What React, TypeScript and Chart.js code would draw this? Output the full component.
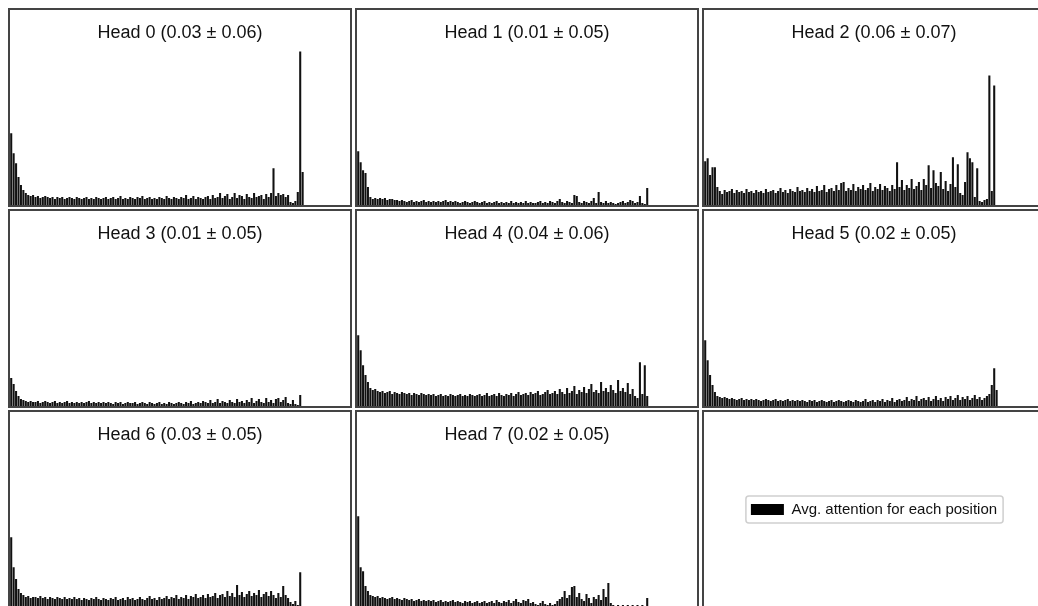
import React, { useEffect, useRef } from "react";
import { Chart, registerables } from "chart.js";

Chart.register(...registerables);

const FONT = "'Liberation Sans', Arial, Helvetica, sans-serif";
const N_POSITIONS = 140;
const POSITIONS: string[] = Array.from({ length: N_POSITIONS }, (_, i) => String(i));
const Y_MAX = 0.8;
const LEGEND_LABEL = "Avg. attention for each position";

const HEAD_TITLES = [
  "Head 0 (0.03 \u00b1 0.06)",
  "Head 1 (0.01 \u00b1 0.05)",
  "Head 2 (0.06 \u00b1 0.07)",
  "Head 3 (0.01 \u00b1 0.05)",
  "Head 4 (0.04 \u00b1 0.06)",
  "Head 5 (0.02 \u00b1 0.05)",
  "Head 6 (0.03 \u00b1 0.05)",
  "Head 7 (0.02 \u00b1 0.05)",
];

const HEAD0 = [
  0.36, 0.26, 0.21, 0.14, 0.10, 0.075, 0.06, 0.05, 0.045, 0.05,
  0.04, 0.045, 0.035, 0.04, 0.045, 0.04, 0.035, 0.04, 0.03, 0.04,
  0.035, 0.04, 0.03, 0.035, 0.04, 0.035, 0.03, 0.04, 0.035, 0.03,
  0.035, 0.04, 0.03, 0.035, 0.03, 0.04, 0.035, 0.03, 0.035, 0.04,
  0.03, 0.035, 0.04, 0.03, 0.035, 0.045, 0.03, 0.035, 0.03, 0.04,
  0.035, 0.03, 0.04, 0.035, 0.045, 0.03, 0.035, 0.04, 0.03, 0.035,
  0.03, 0.04, 0.035, 0.03, 0.045, 0.035, 0.03, 0.04, 0.035, 0.03,
  0.04, 0.035, 0.05, 0.03, 0.035, 0.045, 0.03, 0.04, 0.035, 0.03,
  0.04, 0.045, 0.03, 0.05, 0.035, 0.04, 0.06, 0.035, 0.045, 0.055,
  0.03, 0.04, 0.06, 0.035, 0.05, 0.045, 0.03, 0.055, 0.04, 0.035,
  0.06, 0.04, 0.045, 0.05, 0.03, 0.055, 0.04, 0.06, 0.185, 0.045,
  0.06, 0.05, 0.055, 0.04, 0.05, 0.015, 0.01, 0.02, 0.065, 0.77, 0.165,
];

const HEAD1 = [
  0.27, 0.215, 0.175, 0.16, 0.09, 0.04, 0.03, 0.035, 0.03, 0.035,
  0.03, 0.035, 0.025, 0.03, 0.03, 0.025, 0.025, 0.02, 0.025, 0.02,
  0.015, 0.02, 0.025, 0.015, 0.02, 0.015, 0.02, 0.025, 0.015, 0.02,
  0.015, 0.02, 0.015, 0.02, 0.015, 0.02, 0.025, 0.015, 0.02, 0.015,
  0.02, 0.015, 0.01, 0.015, 0.02, 0.015, 0.01, 0.015, 0.02, 0.015,
  0.01, 0.015, 0.02, 0.01, 0.015, 0.01, 0.015, 0.02, 0.01, 0.015,
  0.01, 0.015, 0.01, 0.02, 0.01, 0.015, 0.01, 0.015, 0.01, 0.02,
  0.01, 0.015, 0.01, 0.01, 0.015, 0.02, 0.01, 0.015, 0.01, 0.02,
  0.015, 0.01, 0.02, 0.03, 0.015, 0.01, 0.02, 0.015, 0.01, 0.05,
  0.045, 0.015, 0.01, 0.02, 0.015, 0.01, 0.02, 0.035, 0.01, 0.065,
  0.015, 0.01, 0.02, 0.01, 0.015, 0.01, 0.005, 0.01, 0.015, 0.02,
  0.01, 0.015, 0.025, 0.02, 0.01, 0.015, 0.045, 0.01, 0.005, 0.085,
];

const HEAD2 = [
  0.22, 0.235, 0.15, 0.19, 0.19, 0.09, 0.07, 0.055, 0.075, 0.065,
  0.07, 0.08, 0.06, 0.075, 0.065, 0.07, 0.06, 0.08, 0.065, 0.07,
  0.06, 0.075, 0.065, 0.07, 0.06, 0.08, 0.065, 0.07, 0.075, 0.06,
  0.07, 0.085, 0.065, 0.075, 0.06, 0.08, 0.07, 0.065, 0.09, 0.07,
  0.075, 0.065, 0.085, 0.07, 0.08, 0.065, 0.095, 0.07, 0.075, 0.1,
  0.065, 0.08, 0.085, 0.07, 0.1, 0.075, 0.11, 0.115, 0.07, 0.085,
  0.075, 0.105, 0.07, 0.09, 0.08, 0.1, 0.075, 0.085, 0.11, 0.07,
  0.09, 0.08, 0.105, 0.075, 0.095, 0.085, 0.07, 0.1, 0.08, 0.215,
  0.09, 0.125, 0.075, 0.1, 0.085, 0.13, 0.08, 0.095, 0.115, 0.075,
  0.13, 0.1, 0.2, 0.085, 0.175, 0.11, 0.095, 0.165, 0.08, 0.12,
  0.07, 0.105, 0.24, 0.09, 0.205, 0.06, 0.05, 0.115, 0.265, 0.235,
  0.215, 0.04, 0.185, 0.02, 0.015, 0.025, 0.03, 0.65, 0.07, 0.6,
];

const HEAD3 = [
  0.14, 0.11, 0.075, 0.05, 0.035, 0.03, 0.025, 0.02, 0.025, 0.02,
  0.02, 0.025, 0.015, 0.02, 0.025, 0.02, 0.015, 0.02, 0.025, 0.015,
  0.02, 0.015, 0.02, 0.025, 0.015, 0.02, 0.015, 0.02, 0.015, 0.02,
  0.015, 0.02, 0.025, 0.015, 0.02, 0.015, 0.02, 0.015, 0.02, 0.015,
  0.02, 0.015, 0.01, 0.02, 0.015, 0.02, 0.01, 0.015, 0.02, 0.015,
  0.015, 0.02, 0.01, 0.015, 0.02, 0.015, 0.01, 0.02, 0.015, 0.01,
  0.015, 0.02, 0.01, 0.015, 0.01, 0.02, 0.015, 0.01, 0.015, 0.02,
  0.015, 0.01, 0.02, 0.015, 0.025, 0.01, 0.015, 0.02, 0.015, 0.025,
  0.02, 0.015, 0.03, 0.015, 0.02, 0.035, 0.015, 0.025, 0.02, 0.015,
  0.03, 0.02, 0.015, 0.035, 0.02, 0.025, 0.015, 0.03, 0.02, 0.04,
  0.015, 0.025, 0.035, 0.02, 0.015, 0.04, 0.02, 0.03, 0.015, 0.035,
  0.04, 0.02, 0.03, 0.045, 0.015, 0.01, 0.03, 0.01, 0.005, 0.055,
];

const HEAD4 = [
  0.355, 0.28, 0.205, 0.155, 0.12, 0.09, 0.08, 0.085, 0.075, 0.07,
  0.075, 0.065, 0.07, 0.075, 0.06, 0.07, 0.065, 0.06, 0.07, 0.065,
  0.06, 0.065, 0.055, 0.065, 0.06, 0.055, 0.065, 0.06, 0.055, 0.06,
  0.055, 0.06, 0.05, 0.055, 0.06, 0.05, 0.055, 0.05, 0.06, 0.055,
  0.05, 0.055, 0.06, 0.05, 0.055, 0.05, 0.06, 0.055, 0.05, 0.055,
  0.06, 0.05, 0.055, 0.065, 0.05, 0.055, 0.06, 0.05, 0.065, 0.055,
  0.05, 0.06, 0.055, 0.065, 0.05, 0.06, 0.07, 0.055, 0.06, 0.065,
  0.055, 0.07, 0.06, 0.065, 0.075, 0.055, 0.06, 0.07, 0.08, 0.06,
  0.065, 0.075, 0.06, 0.085, 0.07, 0.06, 0.09, 0.065, 0.075, 0.1,
  0.06, 0.08, 0.07, 0.095, 0.065, 0.085, 0.11, 0.07, 0.08, 0.065,
  0.12, 0.075, 0.09, 0.07, 0.105, 0.08, 0.065, 0.13, 0.075, 0.09,
  0.07, 0.115, 0.06, 0.085, 0.05, 0.04, 0.22, 0.06, 0.205, 0.05,
];

const HEAD5 = [
  0.33, 0.23, 0.155, 0.105, 0.07, 0.05, 0.045, 0.04, 0.045, 0.04,
  0.035, 0.04, 0.035, 0.03, 0.035, 0.04, 0.03, 0.035, 0.03, 0.035,
  0.03, 0.035, 0.03, 0.025, 0.03, 0.035, 0.03, 0.025, 0.03, 0.035,
  0.025, 0.03, 0.025, 0.03, 0.035, 0.025, 0.03, 0.025, 0.03, 0.025,
  0.03, 0.025, 0.02, 0.03, 0.025, 0.03, 0.02, 0.025, 0.03, 0.025,
  0.02, 0.025, 0.03, 0.02, 0.025, 0.03, 0.025, 0.02, 0.025, 0.03,
  0.025, 0.02, 0.03, 0.025, 0.02, 0.025, 0.035, 0.02, 0.025, 0.03,
  0.02, 0.03, 0.025, 0.035, 0.02, 0.03, 0.025, 0.04, 0.02, 0.03,
  0.035, 0.025, 0.03, 0.045, 0.025, 0.035, 0.03, 0.05, 0.025, 0.035,
  0.04, 0.03, 0.045, 0.025, 0.035, 0.05, 0.03, 0.04, 0.025, 0.045,
  0.035, 0.05, 0.03, 0.04, 0.055, 0.03, 0.045, 0.035, 0.05, 0.03,
  0.04, 0.055, 0.035, 0.045, 0.03, 0.04, 0.05, 0.06, 0.105, 0.19, 0.08,
];

const HEAD6 = [
  0.35, 0.2, 0.14, 0.09, 0.07, 0.06, 0.05, 0.055, 0.045, 0.05,
  0.05, 0.045, 0.055, 0.045, 0.05, 0.04, 0.05, 0.045, 0.04, 0.05,
  0.045, 0.04, 0.05, 0.04, 0.045, 0.04, 0.05, 0.04, 0.045, 0.035,
  0.045, 0.04, 0.035, 0.045, 0.04, 0.05, 0.04, 0.035, 0.045, 0.04,
  0.035, 0.045, 0.04, 0.05, 0.035, 0.04, 0.045, 0.035, 0.05, 0.04,
  0.045, 0.035, 0.04, 0.05, 0.04, 0.035, 0.045, 0.055, 0.04, 0.045,
  0.035, 0.05, 0.04, 0.045, 0.055, 0.04, 0.05, 0.045, 0.06, 0.04,
  0.05, 0.045, 0.06, 0.04, 0.055, 0.05, 0.065, 0.045, 0.05, 0.06,
  0.045, 0.065, 0.05, 0.055, 0.07, 0.045, 0.06, 0.065, 0.05, 0.08,
  0.055, 0.07, 0.05, 0.11, 0.06, 0.075, 0.05, 0.065, 0.08, 0.055,
  0.07, 0.06, 0.085, 0.05, 0.065, 0.075, 0.055, 0.08, 0.06, 0.045,
  0.07, 0.05, 0.105, 0.06, 0.045, 0.025, 0.015, 0.03, 0.01, 0.175,
];

const HEAD7 = [
  0.455, 0.2, 0.18, 0.105, 0.08, 0.06, 0.055, 0.05, 0.055, 0.045,
  0.05, 0.045, 0.04, 0.045, 0.05, 0.04, 0.045, 0.04, 0.035, 0.045,
  0.04, 0.035, 0.04, 0.03, 0.035, 0.04, 0.03, 0.035, 0.03, 0.035,
  0.03, 0.035, 0.025, 0.03, 0.035, 0.025, 0.03, 0.025, 0.03, 0.035,
  0.025, 0.03, 0.025, 0.02, 0.03, 0.025, 0.03, 0.02, 0.025, 0.03,
  0.02, 0.025, 0.03, 0.02, 0.025, 0.03, 0.02, 0.035, 0.025, 0.02,
  0.03, 0.025, 0.035, 0.02, 0.03, 0.04, 0.025, 0.02, 0.035, 0.03,
  0.04, 0.02, 0.025, 0.015, 0.01, 0.02, 0.03, 0.015, 0.01, 0.02,
  0.01, 0.015, 0.03, 0.04, 0.05, 0.08, 0.045, 0.06, 0.1, 0.105,
  0.05, 0.07, 0.04, 0.03, 0.065, 0.045, 0.02, 0.05, 0.04, 0.06,
  0.035, 0.09, 0.05, 0.12, 0.02, 0.01, 0.005, 0.01, 0.005, 0.01,
  0.005, 0.01, 0.005, 0.01, 0.005, 0.01, 0.005, 0.01, 0.005, 0.045,
];

const HEADS = [HEAD0, HEAD1, HEAD2, HEAD3, HEAD4, HEAD5, HEAD6, HEAD7];

const panelStyle: React.CSSProperties = {
  width: 344,
  height: 199,
  boxSizing: "border-box",
  border: "2px solid #444",
  position: "relative",
  background: "#fff",
};

const innerStyle: React.CSSProperties = {
  position: "absolute",
  left: 0,
  top: 0,
  width: 340,
  height: 195,
};

function HeadPanel({ title, values }: { title: string; values: number[] }) {
  const ref = useRef<HTMLCanvasElement>(null);
  useEffect(() => {
    const chart = new Chart(ref.current as HTMLCanvasElement, {
      type: "bar",
      data: {
        labels: POSITIONS,
        datasets: [
          {
            label: LEGEND_LABEL,
            data: values,
            backgroundColor: "#111",
            borderWidth: 0,
            categoryPercentage: 1,
            barPercentage: 0.85,
          },
        ],
      },
      options: {
        animation: false,
        responsive: true,
        maintainAspectRatio: false,
        layout: { padding: 0 },
        plugins: {
          legend: { display: false },
          tooltip: { enabled: false },
          title: {
            display: true,
            text: title,
            color: "#111",
            font: { family: FONT, size: 18, weight: "normal" },
            padding: { top: 12, bottom: 2 },
          },
        },
        scales: {
          x: { display: false },
          y: { display: false, min: 0, max: Y_MAX },
        },
      },
    });
    return () => chart.destroy();
  }, [title, values]);
  return (
    <div style={panelStyle}>
      <div style={innerStyle}>
        <canvas ref={ref} />
      </div>
    </div>
  );
}

const legendFrame = {
  id: "legendFrame",
  afterDraw(chart: any) {
    const legend = chart.legend;
    if (!legend || !legend.legendHitBoxes || !legend.legendHitBoxes.length) return;
    const hb = legend.legendHitBoxes[0];
    const ctx = chart.ctx;
    const x = hb.left - 5;
    const y = hb.top - 6;
    const w = hb.width + 11;
    const h = hb.height + 12;
    ctx.save();
    ctx.strokeStyle = "#cfcfcf";
    ctx.lineWidth = 1.5;
    ctx.beginPath();
    ctx.roundRect(x, y, w, h, 3);
    ctx.stroke();
    ctx.restore();
  },
};

function LegendPanel() {
  const ref = useRef<HTMLCanvasElement>(null);
  useEffect(() => {
    const chart = new Chart(ref.current as HTMLCanvasElement, {
      type: "bar",
      data: {
        labels: [],
        datasets: [
          {
            label: LEGEND_LABEL,
            data: [],
            backgroundColor: "#000",
            borderWidth: 0,
          },
        ],
      },
      options: {
        animation: false,
        responsive: true,
        maintainAspectRatio: false,
        layout: { padding: { top: 80 } },
        plugins: {
          tooltip: { enabled: false },
          legend: {
            display: true,
            position: "top",
            onClick: () => {},
            labels: {
              boxWidth: 33,
              boxHeight: 11,
              padding: 10,
              color: "#111",
              font: { family: FONT, size: 15 },
            },
          },
        },
        scales: {
          x: { display: false },
          y: { display: false },
        },
      },
      plugins: [legendFrame],
    });
    return () => chart.destroy();
  }, []);
  return (
    <div style={panelStyle}>
      <div style={innerStyle}>
        <canvas ref={ref} />
      </div>
    </div>
  );
}

export default function App() {
  return (
    <div
      style={{
        position: "fixed",
        left: 8,
        top: 8,
        right: 0,
        bottom: 0,
        overflow: "hidden",
        background: "#fff",
      }}
    >
      <div
        style={{
          display: "grid",
          gridTemplateColumns: "344px 344px 344px",
          gridAutoRows: "199px",
          columnGap: 3,
          rowGap: 2,
          width: 1038,
        }}
      >
        {HEADS.map((vals, i) => (
          <HeadPanel key={i} title={HEAD_TITLES[i]} values={vals} />
        ))}
        <LegendPanel />
      </div>
    </div>
  );
}
